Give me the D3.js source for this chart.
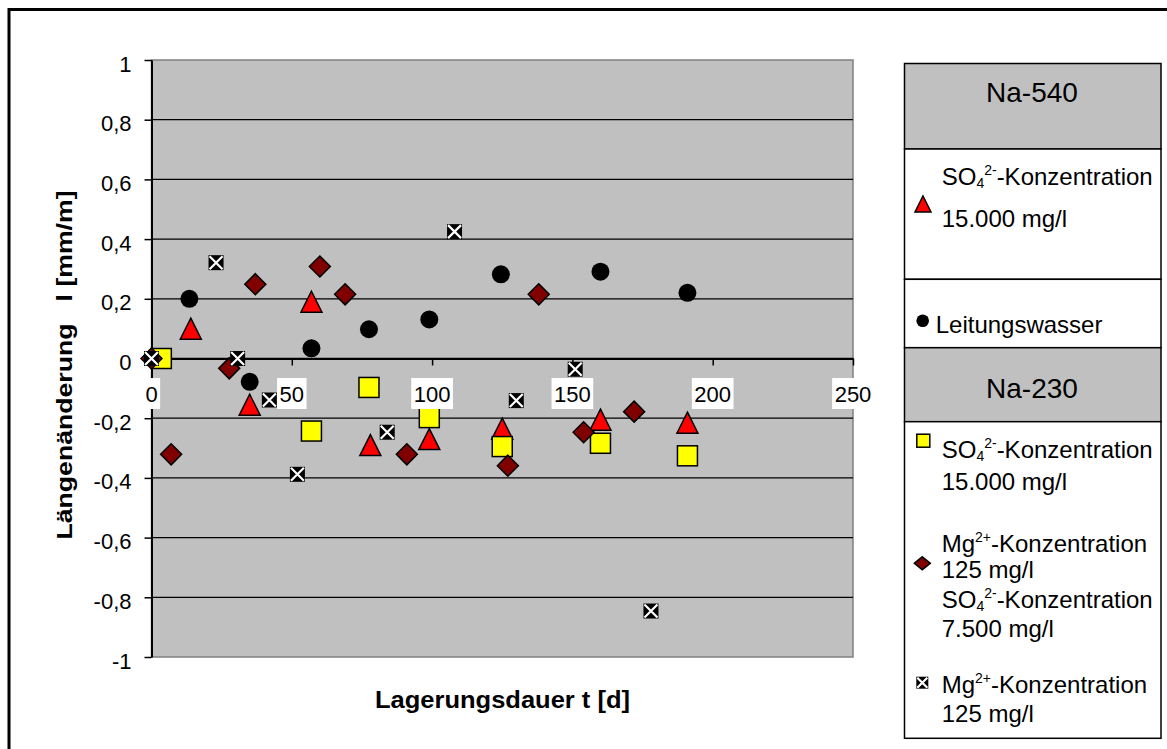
<!DOCTYPE html>
<html>
<head>
<meta charset="utf-8">
<script src="https://cdn.jsdelivr.net/npm/d3@7"></script>
<style>
  html, body { margin: 0; padding: 0; background: #fff; }
  svg { display: block; font-family: "Liberation Sans", Arial, sans-serif; }
</style>
</head>
<body>
<svg id="chart" width="1167" height="749"></svg>
<script>
// ---------- DATA ----------
const xTicks = [0, 50, 100, 150, 200, 250];
const yTicks = [-1, -0.8, -0.6, -0.4, -0.2, 0, 0.2, 0.4, 0.6, 0.8, 1];

// Na-540, SO4 2- 15.000 mg/l (red triangles)
const triDays = [14, 35, 57, 78, 99, 125, 160, 191];
const triVals = [0.10, -0.155, 0.19, -0.29, -0.27, -0.235, -0.205, -0.215];

// Leitungswasser (black circles)
const circDays = [13.5, 35, 57, 77.5, 99, 124.5, 160, 191];
const circVals = [0.20, -0.078, 0.034, 0.098, 0.131, 0.282, 0.291, 0.22];

// Na-230, SO4 2- 15.000 mg/l (yellow squares)
const sqDays = [3.5, 57, 77.5, 99, 125, 160, 191];
const sqVals = [0, -0.243, -0.097, -0.198, -0.295, -0.284, -0.326];

// Na-230, Mg 2+ 125 mg/l + SO4 2- 7.500 mg/l (dark red diamonds)
const diaDays = [0, 7, 27.7, 37, 60, 69, 91, 127, 138, 154, 172];
const diaVals = [0, -0.321, -0.033, 0.249, 0.308, 0.215, -0.321, -0.359, 0.215, -0.247, -0.178];

// Na-230, Mg 2+ 125 mg/l (black square with white cross)
const xmDays = [0, 23, 30.7, 42, 52, 84, 108, 130, 151, 178];
const xmVals = [0, 0.321, 0, -0.139, -0.388, -0.247, 0.425, -0.141, -0.036, -0.846];

// ---------- LAYOUT ----------
const svg = d3.select("#chart");
const P = { left: 151.5, right: 853, top: 60, bottom: 657 };
const x = d3.scaleLinear().domain([0, 250]).range([P.left, P.right]);
const y = d3.scaleLinear().domain([-1, 1]).range([P.bottom, P.top]);
const fmt = d => d === 0 ? "0" : String(d).replace(".", ",");

// outer chart border (right/bottom outside the view)
svg.append("path").attr("d", "M9,760 V9.5 H1180").attr("fill", "none")
  .attr("stroke", "#000").attr("stroke-width", 3);

// plot background
svg.append("rect").attr("x", P.left).attr("y", P.top)
  .attr("width", P.right - P.left).attr("height", P.bottom - P.top)
  .attr("fill", "#c0c0c0").attr("stroke", "#808080").attr("stroke-width", 1.5);

// gridlines
svg.append("g").selectAll("line").data(yTicks.filter(v => v > -1 && v < 1)).join("line")
  .attr("x1", P.left).attr("x2", P.right)
  .attr("y1", d => y(d)).attr("y2", d => y(d))
  .attr("stroke", "#000").attr("stroke-width", 1.3);

// y axis
const yAxis = svg.append("g").attr("transform", `translate(${P.left},0)`)
  .call(d3.axisLeft(y).tickValues(yTicks).tickSize(7).tickSizeOuter(0).tickFormat(fmt));
yAxis.select(".domain").attr("stroke", "#000").attr("stroke-width", 2);
yAxis.selectAll(".tick line").attr("stroke", "#000").attr("stroke-width", 1.5);
yAxis.selectAll(".tick text").attr("font-size", 22).attr("font-family", "Liberation Sans, Arial, sans-serif")
  .attr("fill", "#000").attr("x", -20).attr("dy", null).attr("y", 11);

// x axis at y = 0
const xAxisG = svg.append("g").attr("transform", `translate(0,${y(0)})`)
  .call(d3.axisBottom(x).tickValues(xTicks).tickSize(7).tickSizeOuter(0).tickFormat(d => String(d)));
xAxisG.select(".domain").attr("stroke", "#000").attr("stroke-width", 2);
xAxisG.selectAll(".tick line").attr("stroke", "#000").attr("stroke-width", 1.5);
xAxisG.selectAll(".tick text").remove();

// ---------- MARKERS ----------
const markers = svg.append("g");
function triPath(s) { return `M0,${-s/2} L${s/2},${s/2} L${-s/2},${s/2} Z`; }
function diaPath(w, h) { return `M0,${-h/2} L${w/2},0 L0,${h/2} L${-w/2},0 Z`; }
function drawTri(g, s) { g.append("path").attr("d", triPath(s)).attr("fill", "#ff0000").attr("stroke", "#000").attr("stroke-width", 1.5); }
function drawCirc(g, r) { g.append("circle").attr("r", r).attr("fill", "#000"); }
function drawSq(g, s) { g.append("rect").attr("x", -s/2).attr("y", -s/2).attr("width", s).attr("height", s).attr("fill", "#ffff00").attr("stroke", "#000").attr("stroke-width", 1.5); }
function drawDia(g, w, h) { g.append("path").attr("d", diaPath(w, h)).attr("fill", "#800000").attr("stroke", "#000").attr("stroke-width", 1.5); }
function drawX(g, s) {
  g.append("rect").attr("x", -s/2).attr("y", -s/2).attr("width", s).attr("height", s).attr("fill", "#000");
  const h = s/2 - 1;
  g.append("path").attr("d", `M${-h},${-h} L${h},${h} M${h},${-h} L${-h},${h}`).attr("stroke", "#fff").attr("stroke-width", 2.2);
}
function series(days, vals, drawFn) {
  const pts = days.map((d, i) => [d, vals[i]]);
  markers.append("g").selectAll("g").data(pts).join("g")
    .attr("transform", d => `translate(${x(d[0])},${y(d[1])})`)
    .each(function() { drawFn(d3.select(this)); });
}
series(triDays, triVals, g => drawTri(g, 21));
series(circDays, circVals, g => drawCirc(g, 9));
series(sqDays, sqVals, g => drawSq(g, 20));
series(diaDays, diaVals, g => drawDia(g, 21, 21));
series(xmDays, xmVals, g => drawX(g, 15));

// x tick labels on white boxes (above markers)
const xl = svg.append("g");
xTicks.forEach(t => {
  const g = xl.append("g");
  const txt = g.append("text").attr("x", x(t)).attr("y", 401.7).attr("text-anchor", "middle")
    .attr("font-size", 22).attr("fill", "#000").text(String(t));
  const w = txt.node().getComputedTextLength();
  g.insert("rect", "text").attr("x", x(t) - w/2 - 2.5).attr("y", 378).attr("width", w + 5).attr("height", 31).attr("fill", "#fff");
});

// axis titles
svg.append("text").attr("x", 502.5).attr("y", 708).attr("text-anchor", "middle")
  .attr("font-size", 24).attr("font-weight", "bold").attr("textLength", 255).attr("lengthAdjust", "spacingAndGlyphs")
  .text("Lagerungsdauer t [d]");
svg.append("text").attr("transform", "translate(72,365) rotate(-90)").attr("text-anchor", "middle")
  .attr("font-size", 22).attr("font-weight", "bold").attr("textLength", 349).attr("lengthAdjust", "spacingAndGlyphs")
  .attr("xml:space", "preserve").style("white-space", "pre")
  .text("Längenänderung   l [mm/m]");

// ---------- LEGEND ----------
const L = { x0: 904.5, x1: 1161, top: 63.5, bottom: 738.3 };
const cells = [
  { y0: 63.5, y1: 149, fill: "#c0c0c0" },
  { y0: 149, y1: 279.3, fill: "#fff" },
  { y0: 279.3, y1: 347.7, fill: "#fff" },
  { y0: 347.7, y1: 421.7, fill: "#c0c0c0" },
  { y0: 421.7, y1: 738.3, fill: "#fff" }
];
const lg = svg.append("g");
lg.selectAll("rect.cell").data(cells).join("rect").attr("class", "cell")
  .attr("x", L.x0).attr("y", d => d.y0).attr("width", L.x1 - L.x0).attr("height", d => d.y1 - d.y0)
  .attr("fill", d => d.fill).attr("stroke", "#000").attr("stroke-width", 1.5);

lg.append("text").attr("x", 1032).attr("y", 101.7).attr("text-anchor", "middle").attr("font-size", 28).text("Na-540");
lg.append("text").attr("x", 1032).attr("y", 398).attr("text-anchor", "middle").attr("font-size", 28).text("Na-230");

function richText(xp, yp, segs) {
  const t = lg.append("text").attr("x", xp).attr("y", yp).attr("font-size", 24).attr("fill", "#000");
  segs.forEach(s => {
    const ts = t.append("tspan").text(s.t);
    if (s.fs) ts.attr("font-size", s.fs);
    if (s.dy) ts.attr("dy", s.dy);
  });
}
const so4 = (xp, yp) => richText(xp, yp, [{ t: "SO" }, { t: "4", fs: 14, dy: 3 }, { t: "2-", fs: 14, dy: -13 }, { t: "-Konzentration", dy: 10 }]);
const mg = (xp, yp) => richText(xp, yp, [{ t: "Mg" }, { t: "2+", fs: 14, dy: -10 }, { t: "-Konzentration", dy: 10 }]);

so4(941.7, 184.5);
richText(941.7, 226.7, [{ t: "15.000 mg/l" }]);
richText(935.7, 333.3, [{ t: "Leitungswasser" }]);
so4(941.7, 458.3);
richText(941.7, 490, [{ t: "15.000 mg/l" }]);
mg(941.7, 551.7);
richText(941.7, 577.7, [{ t: "125 mg/l" }]);
so4(941.7, 608.3);
richText(941.7, 636.7, [{ t: "7.500 mg/l" }]);
mg(941.7, 693.3);
richText(941.7, 721.7, [{ t: "125 mg/l" }]);

// legend symbols
const sym = (cx, cy, fn) => fn(lg.append("g").attr("transform", `translate(${cx},${cy})`));
sym(923, 204, g => drawTri(g, 16));
sym(922.7, 320.7, g => drawCirc(g, 6.3));
sym(923.3, 440.7, g => drawSq(g, 13));
sym(922.3, 563.3, g => drawDia(g, 16, 13));
sym(922.3, 682.7, g => drawX(g, 12));
</script>
</body>
</html>
